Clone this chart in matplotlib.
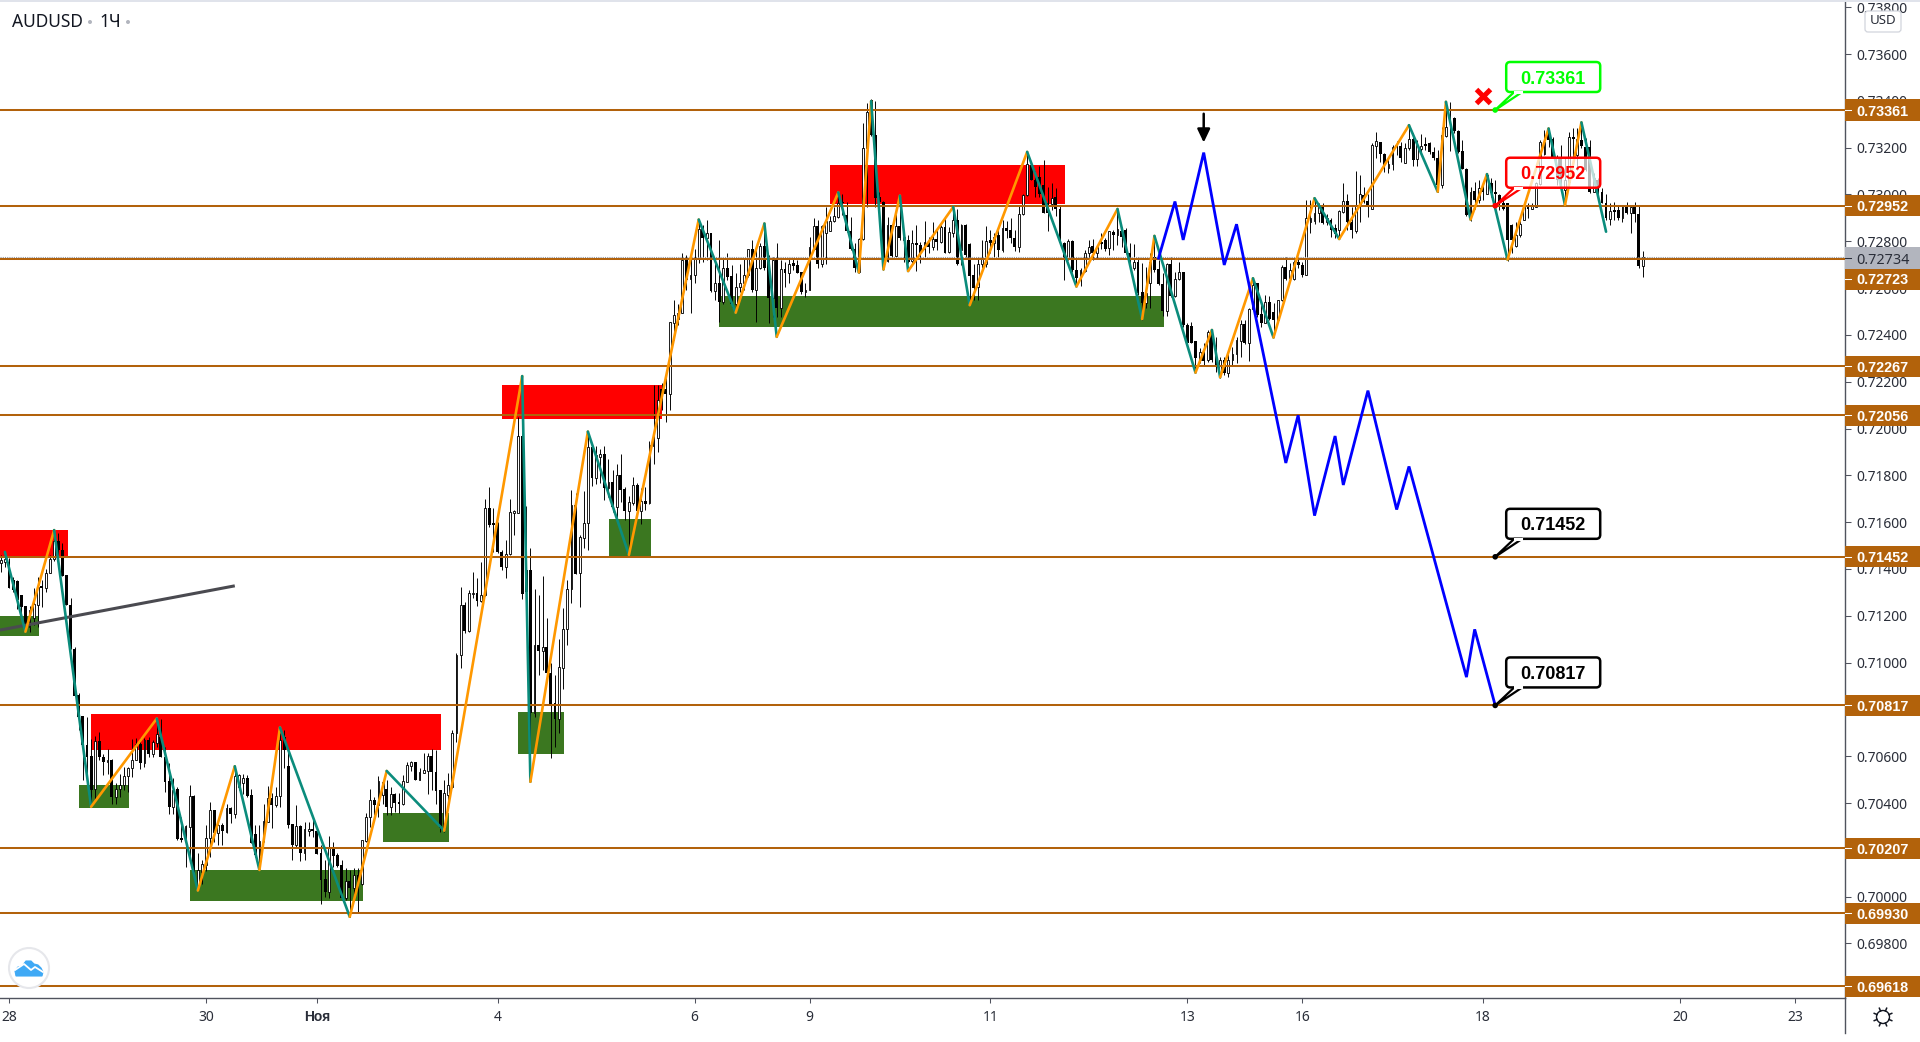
import numpy as np
import matplotlib
matplotlib.use("Agg")
import matplotlib.pyplot as plt
from matplotlib.patches import Rectangle, FancyBboxPatch, Polygon, Circle
from matplotlib.lines import Line2D
from matplotlib.transforms import IdentityTransform, blended_transform_factory

plt.rcParams['font.family'] = ['Noto Sans', 'DejaVu Sans']
BOLD_FONT = ['Liberation Sans', 'DejaVu Sans']

FIRST_BAR = -2
# OHLC in 1e-5 price units, one value per hourly bar
opens = [
71424,71428,71428,71352,71348,71288,71241,71153,71189,71246,
71327,71320,71381,71441,71519,71481,71374,71246,71060,70861,
70771,70647,70600,70462,70663,70597,70576,70586,70427,70458,
70476,70515,70548,70583,70654,70569,70669,70609,70657,70683,
70597,70493,70381,70458,70249,70241,70298,70429,70048,70107,
70135,70249,70370,70273,70305,70277,70377,70355,70467,70484,
70505,70434,70266,70178,70238,70320,70420,70391,70431,70683,
70558,70310,70220,70302,70188,70282,70290,70282,70185,70074,
70021,70209,70178,70135,69995,70069,70038,70092,70052,70239,
70339,70413,70391,70434,70458,70384,70437,70404,70394,70491,
70559,70574,70498,70529,70538,70601,70531,70455,70292,70434,
70470,70698,71032,71246,71136,71293,71296,71264,71287,71659,
71595,71595,71474,71410,71462,71640,71640,71968,71395,71395,
70783,71075,71051,71066,70954,70826,70759,70978,71142,71313,
71673,71381,71534,71595,71920,71787,71880,71891,71747,71770,
71666,71801,71740,71649,71683,71759,71649,71690,71680,71925,
71961,72169,72169,72146,72453,72470,72495,72720,72640,72658,
72730,72851,72812,72834,72589,72620,72542,72684,72651,72534,
72606,72620,72654,72765,72591,72684,72779,72727,72559,72720,
72513,72680,72665,72708,72698,72670,72584,72594,72769,72865,
72703,72836,72845,72888,72905,72969,72912,72845,72765,72670,
72809,73197,73403,73254,72990,72969,72717,72869,72737,72865,
72805,72805,72715,72794,72784,72765,72798,72776,72808,72798,
72859,72755,72836,72893,72762,72869,72788,72656,72603,72705,
72705,72805,72791,72826,72762,72855,72848,72816,72777,72915,
72997,73125,73060,73076,73040,72962,72958,72991,72937,72792,
72728,72802,72678,72642,72675,72749,72780,72749,72799,72806,
72770,72840,72829,72842,72849,72749,72685,72713,72582,72535,
72621,72735,72681,72617,72503,72703,72568,72638,72668,72443,
72439,72372,72293,72329,72293,72414,72343,72229,72293,72236,
72293,72319,72376,72447,72364,72510,72621,72490,72453,72540,
72500,72464,72550,72689,72642,72638,72713,72698,72658,72883,
72888,72923,72947,72883,72893,72855,72848,72926,72972,72883,
72845,72950,72997,72972,72940,73208,73225,73175,73114,73130,
73211,73207,73135,73197,73239,73150,73194,73214,73218,73182,
73154,73040,73249,73318,73325,73271,73185,73111,72898,73014,
72976,73029,73004,73047,73012,72997,72962,72962,72869,72779,
72826,72893,72955,72940,72947,73044,73172,73268,73239,73068,
73154,73019,73054,73244,73168,73232,73204,73204,73012,73061,
73012,72965,72895,72933,72933,72898,72950,72922,72947,72916,
72695]
highs = [
71459,71473,71445,71367,71352,71288,71241,71241,71317,71367,
71352,71402,71459,71566,71552,71509,71374,71274,71067,70872,
70771,70768,70672,70686,70704,70609,70630,70590,70484,70526,
70555,70555,70672,70676,70676,70676,70683,70669,70754,70757,
70640,70569,70505,70469,70341,70305,70476,70434,70188,70158,
70305,70405,70370,70313,70313,70398,70384,70555,70524,70524,
70520,70458,70306,70306,70398,70473,70441,70470,70698,70712,
70626,70310,70391,70306,70320,70320,70327,70285,70220,70156,
70259,70235,70185,70156,70121,70114,70121,70121,70242,70359,
70458,70427,70515,70498,70498,70467,70441,70441,70520,70576,
70579,70576,70548,70612,70612,70629,70626,70455,70498,70527,
70712,71039,71324,71260,71310,71388,71360,71431,71697,71749,
71659,71602,71481,71524,71697,71652,72051,72224,71669,71488,
71314,71289,71370,71189,70997,70947,71099,71232,71353,71737,
71723,71545,71733,71987,71930,71925,71911,71925,71868,71823,
71848,71891,71751,71712,71794,71766,71744,71751,71947,72186,
72186,72193,72250,72456,72549,72534,72752,72741,72734,72769,
72893,72869,72893,72836,72720,72805,72727,72748,72698,72663,
72705,72727,72769,72805,72765,72791,72862,72741,72734,72791,
72720,72712,72727,72730,72720,72670,72620,72819,72898,72891,
72869,72947,72908,72947,73004,73004,72969,72905,72791,72812,
73304,73389,73410,73399,73012,72972,72905,72876,72955,72990,
72848,72826,72848,72869,72798,72888,72819,72883,72848,72869,
72905,72862,72947,72940,72876,72876,72791,72705,72734,72805,
72865,72848,72834,72862,72891,72888,72898,72848,72955,73004,
73175,73125,73100,73121,73147,73033,73048,73027,72956,72799,
72809,72806,72735,72685,72763,72806,72809,72785,72834,72813,
72842,72849,72934,72863,72856,72792,72789,72735,72706,72692,
72749,72820,72721,72664,72709,72735,72671,72713,72671,72450,
72457,72372,72343,72364,72421,72421,72393,72307,72307,72322,
72350,72393,72464,72464,72514,72642,72621,72535,72571,72567,
72535,72550,72699,72735,72706,72721,72735,72712,72976,72976,
72983,72962,72962,72916,72898,72876,72933,73047,73004,72947,
73100,73083,73033,73004,73218,73265,73225,73178,73154,73211,
73230,73225,73218,73289,73261,73232,73257,73247,73225,73204,
73190,73289,73389,73396,73332,73275,73232,73114,73033,73054,
73061,73040,73090,73069,73061,73004,72990,72965,72876,72883,
72912,72962,72962,72962,73054,73232,73275,73282,73247,73170,
73210,73154,73268,73286,73282,73289,73240,73232,73090,73069,
73026,73004,72965,72969,72950,72955,72969,72955,72969,72955,
72758]
lows = [
71388,71409,71317,71302,71231,71210,71132,71132,71160,71153,
71238,71302,71381,71435,71459,71371,71246,71060,70858,70711,
70498,70498,70384,70419,70583,70519,70526,70398,70398,70427,
70455,70448,70512,70583,70545,70552,70597,70597,70640,70597,
70448,70355,70353,70241,70234,70127,70156,70085,70026,70055,
70110,70170,70234,70220,70220,70270,70313,70334,70456,70438,
70427,70228,70171,70114,70235,70320,70292,70384,70384,70548,
70292,70156,70210,70153,70156,70259,70256,70182,69968,69997,
69993,70128,70128,69985,69985,69914,69985,69936,70050,70235,
70299,70349,70341,70398,70349,70349,70363,70356,70391,70491,
70538,70498,70498,70527,70438,70455,70398,70277,70277,70384,
70463,70662,70975,71125,71132,71274,71243,71260,71284,71578,
71474,71469,71395,71363,71460,71545,71638,71270,71289,70491,
70769,70947,70968,70947,70594,70640,70700,70887,71075,71256,
71378,71239,71491,71481,71756,71763,71766,71694,71709,71645,
71609,71687,71609,71460,71673,71630,71591,71652,71677,71847,
71901,72079,72029,72079,72378,72442,72495,72591,72495,72620,
72708,72712,72722,72584,72549,72456,72534,72634,72520,72520,
72584,72591,72648,72584,72456,72680,72677,72453,72477,72477,
72477,72606,72620,72677,72663,72577,72563,72591,72765,72684,
72691,72705,72844,72883,72898,72912,72841,72762,72670,72665,
72805,72945,73250,72945,72962,72677,72712,72734,72734,72805,
72712,72708,72708,72674,72708,72727,72748,72762,72762,72794,
72748,72748,72819,72698,72698,72734,72527,72549,72549,72684,
72691,72748,72734,72734,72755,72812,72794,72759,72755,72912,
72993,73060,72990,72990,72919,72845,72934,72906,72785,72635,
72721,72671,72607,72607,72671,72723,72721,72728,72766,72760,
72742,72763,72785,72777,72746,72685,72678,72571,72464,72514,
72514,72671,72614,72481,72481,72564,72564,72635,72436,72364,
72364,72236,72279,72272,72286,72286,72243,72215,72229,72222,
72272,72282,72307,72362,72290,72505,72478,72436,72450,72464,
72393,72457,72547,72635,72639,72635,72685,72646,72656,72834,
72876,72883,72876,72869,72819,72812,72809,72919,72848,72812,
72834,72883,72962,72905,72936,73154,73140,73097,73093,73104,
73170,73140,73133,73192,73121,73121,73182,73192,73175,73147,
73012,73026,73247,73187,73261,73178,73107,72908,72888,72940,
72962,72976,73002,72990,72955,72933,72933,72717,72748,72777,
72819,72891,72898,72936,72945,73040,73168,73204,73154,73040,
73030,72955,73047,73154,73104,73197,73100,73007,73012,73004,
72962,72893,72869,72893,72893,72883,72916,72834,72883,72684,
72648]
closes = [
71438,71441,71317,71310,71267,71238,71153,71224,71250,71324,
71320,71381,71441,71519,71481,71371,71246,71060,70858,70768,
70647,70597,70455,70663,70597,70576,70586,70427,70458,70476,
70515,70548,70583,70654,70569,70669,70609,70662,70697,70597,
70491,70381,70455,70246,70241,70301,70429,70106,70114,70141,
70249,70370,70270,70305,70280,70377,70355,70516,70520,70505,
70430,70228,70178,70238,70323,70420,70391,70431,70669,70626,
70306,70220,70302,70188,70287,70287,70282,70182,70071,70021,
70209,70173,70131,69995,70069,70038,70092,70052,70240,70340,
70413,70391,70494,70491,70384,70437,70401,70394,70494,70562,
70574,70498,70531,70541,70601,70531,70453,70292,70441,70477,
70698,71032,71246,71135,71296,71296,71264,71287,71659,71588,
71588,71474,71410,71462,71642,71648,71968,71291,71300,70783,
71075,71051,71066,70954,70819,70759,70980,71142,71313,71673,
71378,71535,71595,71920,71787,71887,71891,71747,71770,71666,
71801,71737,71649,71685,71759,71649,71690,71679,71930,71965,
72122,72122,72146,72455,72485,72495,72720,72634,72658,72730,
72851,72812,72834,72589,72620,72542,72684,72648,72534,72606,
72620,72654,72765,72591,72684,72779,72684,72559,72720,72513,
72680,72665,72705,72694,72665,72584,72594,72774,72865,72703,
72865,72888,72888,72908,72965,72962,72845,72765,72684,72809,
73197,73353,73254,72986,72969,72717,72869,72737,72865,72812,
72819,72712,72794,72784,72748,72798,72776,72808,72795,72859,
72752,72841,72893,72701,72869,72741,72653,72599,72705,72727,
72802,72791,72819,72762,72855,72845,72812,72774,72915,72997,
73130,73060,73030,73004,72922,72919,72987,72937,72792,72728,
72802,72678,72642,72678,72749,72777,72749,72775,72789,72768,
72842,72829,72853,72820,72749,72728,72713,72578,72535,72578,
72713,72678,72617,72503,72703,72568,72639,72668,72443,72364,
72367,72300,72329,72289,72414,72293,72272,72293,72236,72293,
72319,72379,72447,72364,72510,72614,72486,72453,72540,72467,
72464,72550,72689,72639,72678,72713,72699,72658,72898,72898,
72923,72945,72879,72898,72848,72831,72929,72972,72881,72848,
72950,73000,72969,72950,73211,73228,73175,73126,73130,73204,
73204,73154,73197,73239,73147,73211,73207,73207,73180,73154,
73040,73254,73289,73304,73271,73182,73111,72912,73012,72976,
73029,73012,73083,73007,73002,72962,72940,72805,72805,72826,
72876,72947,72940,72955,73047,73225,73225,73232,73161,73154,
73047,73061,73244,73238,73239,73207,73104,73012,73069,73012,
72965,72898,72929,72926,72898,72950,72922,72945,72916,72695,
72734]

# zigzag pivots (bar index, price in 1e-5)
zig_bars = [-1,4,11,20,36,46,55,61,66,83,92,106,125,127,141,151,168,177,184,187,202,207,210,213,217,219,230,234,248,260,270,276,279,289,293,295,303,308,318,324,341,348,350,356,360,365,375,379,383,389]
zig_prices = [71473,71132,71566,70384,70761,70026,70557,70114,70723,69914,70537,70282,72224,70491,71987,71460,72893,72495,72876,72392,73009,72667,73399,72680,72995,72673,72947,72527,73182,72607,72938,72468,72823,72239,72421,72219,72642,72389,72984,72810,73296,73012,73396,72893,73087,72722,73282,72955,73308,72841]

# projected blue path
blue_bars = [280,284,286,291,296,299,311,314,318,323,325,331,338,341,355,357,362]
blue_prices = [72728,72970,72806,73179,72699,72873,71853,72057,71628,71968,71759,72162,71654,71838,70938,71142,70817]

# horizontal levels
levels = [73361,72952,72723,72267,72056,71452,70817,70207,69930,69618]
level_labels = ['0.73361','0.72952','0.72723','0.72267','0.72056','0.71452','0.70817','0.70207','0.69930','0.69618']
level_label_y = [73361,72952,72639,72267,72056,71452,70817,70207,69930,69618]
last_price = 72734

# zones: bar start, bar end, price low, price high
red_zones = [(-3,14.4,71455,71566),(20,105.2,70626,70780),(120.1,159.1,72041,72186),(200,257.2,72959,73126)]
green_zones = [(-3,7.3,71113,71199),(17,29.2,70378,70477),(44.1,86.2,69981,70113),(91.1,107.2,70233,70357),(124,135.2,70609,70789),(146.2,156.4,71455,71613),(173,281.4,72434,72566)]

# trend line
trend_bars = [-2.2,55]
trend_prices = [71139,71328]

# callouts
callouts = [(362,73361,'0.73361','#00FF00'),(362,72952,'0.72952','#FF0000'),(362,71452,'0.71452','#000000'),(362,70817,'0.70817','#000000')]

x_tick_pos = [0,48,75,119,167,195,239,287,315,359,407,435]
x_tick_labels = ['28','30','Ноя','4','6','9','11','13','16','18','20','23']
y_ticks = [0.698,0.700,0.702,0.704,0.706,0.708,0.710,0.712,0.714,0.716,0.718,0.720,0.722,0.724,0.726,0.728,0.730,0.732,0.734,0.736,0.738]

W, H = 1920, 1042
AX_R, AX_B = 1845, 998
LEVEL = '#B2620B'
AXC = '#50535E'
TXT = '#2A2E39'

fig = plt.figure(figsize=(W/100, H/100), dpi=100, facecolor='white')
ax = fig.add_axes([0, 1-AX_B/H, AX_R/W, AX_B/H])
ax.set_xlim(-2.19, 447.2)
ax.set_ylim(0.69567, 0.73831)

o = np.array(opens)/1e5; h = np.array(highs)/1e5; l = np.array(lows)/1e5; c = np.array(closes)/1e5
x = np.arange(FIRST_BAR, FIRST_BAR+len(o))

for x0,x1,p0,p1 in red_zones:
    ax.add_patch(Rectangle((x0,p0/1e5),x1-x0,(p1-p0)/1e5,fc='#FF0000',ec='none',zorder=1))
for x0,x1,p0,p1 in green_zones:
    ax.add_patch(Rectangle((x0,p0/1e5),x1-x0,(p1-p0)/1e5,fc='#3B7720',ec='none',zorder=1))

ax.vlines(x,l,h,color='black',lw=0.68,zorder=2)
up = c>=o
ax.bar(x[up],np.abs(c-o)[up],bottom=np.minimum(o,c)[up],width=0.44,facecolor='white',edgecolor='black',linewidth=0.62,zorder=2.1)
ax.bar(x[~up],np.abs(c-o)[~up],bottom=np.minimum(o,c)[~up],width=0.7,facecolor='black',edgecolor='none',linewidth=0,zorder=2.1)

ax.axhline(last_price/1e5,color='#9598A1',lw=0.8,ls=(0,(1,1)),zorder=3)
for lv in levels:
    ax.axhline(lv/1e5,color=LEVEL,lw=1.45,zorder=3.1)

ax.plot(np.array(trend_bars),np.array(trend_prices)/1e5,color='#4A4A50',lw=2.2,zorder=3.5,solid_capstyle='butt')

zb = np.array(zig_bars); zp = np.array(zig_prices)/1e5
for k in range(len(zb)-1):
    col = '#FF9800' if zp[k+1]>zp[k] else '#0B8C7C'
    ax.plot(zb[k:k+2],zp[k:k+2],color=col,lw=1.9,zorder=4,solid_capstyle='round')
ax.plot(np.array(blue_bars),np.array(blue_prices)/1e5,color='#0000FF',lw=2.0,zorder=4.5,solid_joinstyle='miter')

# arrow and X
ax.annotate('',xy=(291,0.73222),xytext=(291,0.73345),arrowprops=dict(arrowstyle='-|>,head_width=0.38,head_length=0.8',lw=1.8,color='black',shrinkA=0,shrinkB=0),zorder=5)
ax.plot([359],[0.73421],marker='x',ms=10,mew=3.6,color='#FF0000',zorder=5,clip_on=False)

# axes look
for s in ('top','left'):
    ax.spines[s].set_visible(False)
for s in ('right','bottom'):
    ax.spines[s].set_color(AXC); ax.spines[s].set_linewidth(1.0)
ax.yaxis.tick_right()
ax.set_yticks(y_ticks)
ax.set_yticklabels([f'{v:.5f}' for v in y_ticks])
ax.tick_params(axis='y',length=4.3,width=0.75,color=AXC,labelcolor=TXT,labelsize=10,pad=3.6)
ax.set_xticks(x_tick_pos)
ax.set_xticklabels(x_tick_labels)
ax.tick_params(axis='x',length=3.6,width=0.75,color=AXC,labelcolor=TXT,labelsize=10,pad=5)
ax.get_xticklabels()[2].set_fontweight('bold')
ax.get_xticklabels()[2].set_fontfamily(BOLD_FONT)

# right scale labels
bt = blended_transform_factory(ax.transAxes,ax.transData)
def scale_label(yp,text,bg,fg,weight,family):
    ax.add_patch(Rectangle((1,yp/1e5-0.00045),W/AX_R-1,0.0009,transform=bt,fc=bg,ec='none',clip_on=False,zorder=6))
    ax.add_line(Line2D([1,1851/AX_R],[yp/1e5,yp/1e5],transform=bt,color=fg,lw=0.75,clip_on=False,zorder=6.1))
    ax.text(1856/AX_R,yp/1e5,text,transform=bt,color=fg,fontsize=10.4,fontweight=weight,family=family,va='center_baseline',ha='left',zorder=6.2,clip_on=False)
for yp,t in zip(level_label_y,level_labels):
    scale_label(yp,t,LEVEL,'white','bold',BOLD_FONT)
scale_label(73361-(258-110)*4.273,f'{last_price/1e5:.5f}','#B2B5BE',TXT,'normal',['Noto Sans','DejaVu Sans'])

# callouts
idt = IdentityTransform()
for bx,bp,t,col in callouts:
    ax_,ay_ = ax.transData.transform((bx,bp/1e5))
    fc = (1,1,1,0.72) if col=='#FF0000' else 'white'
    fig.add_artist(FancyBboxPatch((ax_+11,ay_+18),94,30,boxstyle='round,pad=0,rounding_size=4',fc=fc,ec=col,lw=1.8,transform=idt,zorder=7))
    fig.add_artist(Polygon([(ax_,ay_),(ax_+19,ay_+18),(ax_+27,ay_+18)],closed=True,fc='white',ec=col,lw=1.6,transform=idt,zorder=7.1))
    fig.add_artist(Line2D([ax_+20,ax_+26],[ay_+18,ay_+18],color='white',lw=2.2,transform=idt,zorder=7.2))
    fig.add_artist(Circle((ax_,ay_),2.8,fc=col,ec='none',transform=idt,zorder=7.3))
    fig.text((ax_+58)/W,(ay_+33)/H,t,color=col,fontsize=13,fontweight='bold',family=BOLD_FONT,ha='center',va='center_baseline',zorder=7.4)

# header
fig.add_artist(Rectangle((0,H-2),W,2,fc='#E0E3EB',ec='none',transform=idt,zorder=8))
fig.text(12/W,1-22/H,'AUDUSD',color='#131722',fontsize=12.5,va='center',ha='left',zorder=8)
fig.text(99/W,1-22/H,'1Ч',color='#131722',fontsize=12.5,va='center',ha='left',zorder=8)
for px in (90,128):
    fig.add_artist(Circle((px,H-22),2,fc='#B2B5BE',ec='none',transform=idt,zorder=8))

# USD box
fig.add_artist(FancyBboxPatch((1865,H-32),36,21,boxstyle='round,pad=0,rounding_size=3',fc='white',ec='#D1D4DC',lw=0.9,transform=idt,zorder=8))
fig.text(1883/W,1-21/H,'USD',color=TXT,fontsize=9.6,ha='center',va='center',zorder=8.1)

# right border extension to the bottom
fig.add_artist(Line2D([AX_R,AX_R],[H-AX_B,H-1033],color=AXC,lw=1.0,transform=idt,zorder=8))

# gear
gx,gy = 1883,H-1017
fig.add_artist(Circle((gx,gy),6.5,fc='white',ec='#131722',lw=1.0,transform=idt,zorder=8))
for a in np.deg2rad(np.arange(0,360,45)+22.5):
    fig.add_artist(Line2D([gx+6.5*np.cos(a),gx+9.5*np.cos(a)],[gy+6.5*np.sin(a),gy+9.5*np.sin(a)],color='#131722',lw=1.1,transform=idt,zorder=8))

# logo
lx,ly = 29,H-968
fig.add_artist(Circle((lx,ly),20,fc='white',ec='#E6E7EB',lw=1.5,transform=idt,zorder=8))
cloud = [(-13,-8),(-14,-3),(-11,1),(-7,2),(-3,7),(2,7),(5,4),(9,3),(12,0),(14,-4),(13,-8)]
fig.add_artist(Polygon([(lx+a,ly+b) for a,b in cloud],closed=True,fc='#3FA9F5',ec='#3FA9F5',lw=0.8,transform=idt,zorder=8.1))
wave = [(-14,-2),(-5,4),(2,-2),(6,1),(14,-4)]
fig.add_artist(Line2D([lx+a for a,b in wave],[ly+b for a,b in wave],color='white',lw=1.3,transform=idt,zorder=8.2))

fig.savefig('out.png',dpi=100,facecolor='white')
